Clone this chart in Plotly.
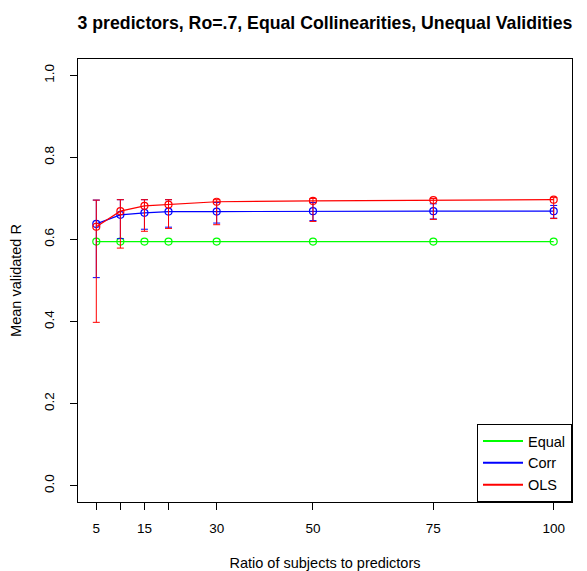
import plotly.graph_objects as go

# ---- data ----
ratio = [5, 10, 15, 20, 30, 50, 75, 100]
x_tick_vals = [5, 10, 15, 20, 30, 50, 75, 100]
x_tick_text = ["5", "", "15", "", "30", "50", "75", "100"]
y_tick_vals = [0.0, 0.2, 0.4, 0.6, 0.8, 1.0]
y_tick_text = ["0.0", "0.2", "0.4", "0.6", "0.8", "1.0"]

equal_mean = [0.595, 0.595, 0.595, 0.595, 0.595, 0.595, 0.595, 0.595]

corr_mean = [0.638, 0.660, 0.665, 0.668, 0.668, 0.669, 0.669, 0.669]
corr_hi = [0.696, 0.697, 0.697, 0.697, 0.690, 0.690, 0.687, 0.683]
corr_lo = [0.507, 0.602, 0.625, 0.630, 0.640, 0.646, 0.650, 0.652]

ols_mean = [0.631, 0.669, 0.682, 0.685, 0.692, 0.694, 0.696, 0.697]
ols_hi = [0.696, 0.697, 0.697, 0.697, 0.697, 0.700, 0.700, 0.702]
ols_lo = [0.398, 0.579, 0.620, 0.627, 0.636, 0.644, 0.649, 0.651]

series_names = ["Equal", "Corr", "OLS"]
colors = {"Equal": "#00ff00", "Corr": "#0000ff", "OLS": "#ff0000"}

FONT = "Arial, Liberation Sans, sans-serif"

fig = go.Figure()


def add_series(name, mean, hi=None, lo=None):
    c = colors[name]
    err = None
    if hi is not None:
        err = dict(
            type="data",
            symmetric=False,
            array=[h - m for h, m in zip(hi, mean)],
            arrayminus=[m - l for m, l in zip(mean, lo)],
            color=c,
            thickness=1,
            width=3.5,
        )
    fig.add_trace(
        go.Scatter(
            x=ratio,
            y=mean,
            mode="lines+markers",
            name=name,
            showlegend=False,
            line=dict(color=c, width=1.2),
            marker=dict(symbol="circle-open", size=7, color=c, line=dict(width=1.2, color=c)),
            error_y=err,
        )
    )


add_series("Equal", equal_mean)
add_series("Corr", corr_mean, corr_hi, corr_lo)
add_series("OLS", ols_mean, ols_hi, ols_lo)

# legend entries (lines only, as in the reference)
for name in series_names:
    fig.add_trace(
        go.Scatter(
            x=[None],
            y=[None],
            mode="lines",
            name=name,
            line=dict(color=colors[name], width=2),
            showlegend=True,
        )
    )

fig.update_layout(
    width=587,
    height=571,
    margin=dict(l=78, r=15, t=59, b=69),
    paper_bgcolor="white",
    plot_bgcolor="white",
    font=dict(family=FONT, size=13, color="black"),
    title=dict(
        text="<b>3 predictors, Ro=.7, Equal Collinearities, Unequal Validities</b>",
        x=0.5,
        xref="paper",
        xanchor="center",
        y=1 - 23 / 571,
        yanchor="middle",
        font=dict(family=FONT, size=17.7, color="black"),
    ),
    legend=dict(
        x=1,
        y=0,
        xanchor="right",
        yanchor="bottom",
        bordercolor="black",
        borderwidth=1,
        bgcolor="white",
        font=dict(family=FONT, size=14.5),
        itemwidth=40,
        tracegroupgap=0,
    ),
    xaxis=dict(
        range=[1.2, 103.8],
        tickvals=x_tick_vals,
        ticktext=x_tick_text,
        ticks="outside",
        ticklen=7,
        tickcolor="black",
        showline=True,
        linecolor="black",
        linewidth=1,
        mirror=True,
        showgrid=False,
        zeroline=False,
        automargin=False,
        tickfont=dict(family=FONT, size=13.5),
        ticklabelstandoff=7,
        title=dict(text="Ratio of subjects to predictors", font=dict(family=FONT, size=14.5), standoff=26),
    ),
    yaxis=dict(
        range=[-0.04, 1.04],
        tickvals=y_tick_vals,
        ticktext=y_tick_text,
        tickangle=-90,
        ticks="outside",
        ticklen=7,
        tickcolor="black",
        showline=True,
        linecolor="black",
        linewidth=1,
        mirror=True,
        showgrid=False,
        zeroline=False,
        automargin=False,
        tickfont=dict(family=FONT, size=13.5),
        ticklabelstandoff=11,
        title=dict(text="Mean validated R", font=dict(family=FONT, size=14.5), standoff=16),
    ),
)

fig.write_html("out.html")
